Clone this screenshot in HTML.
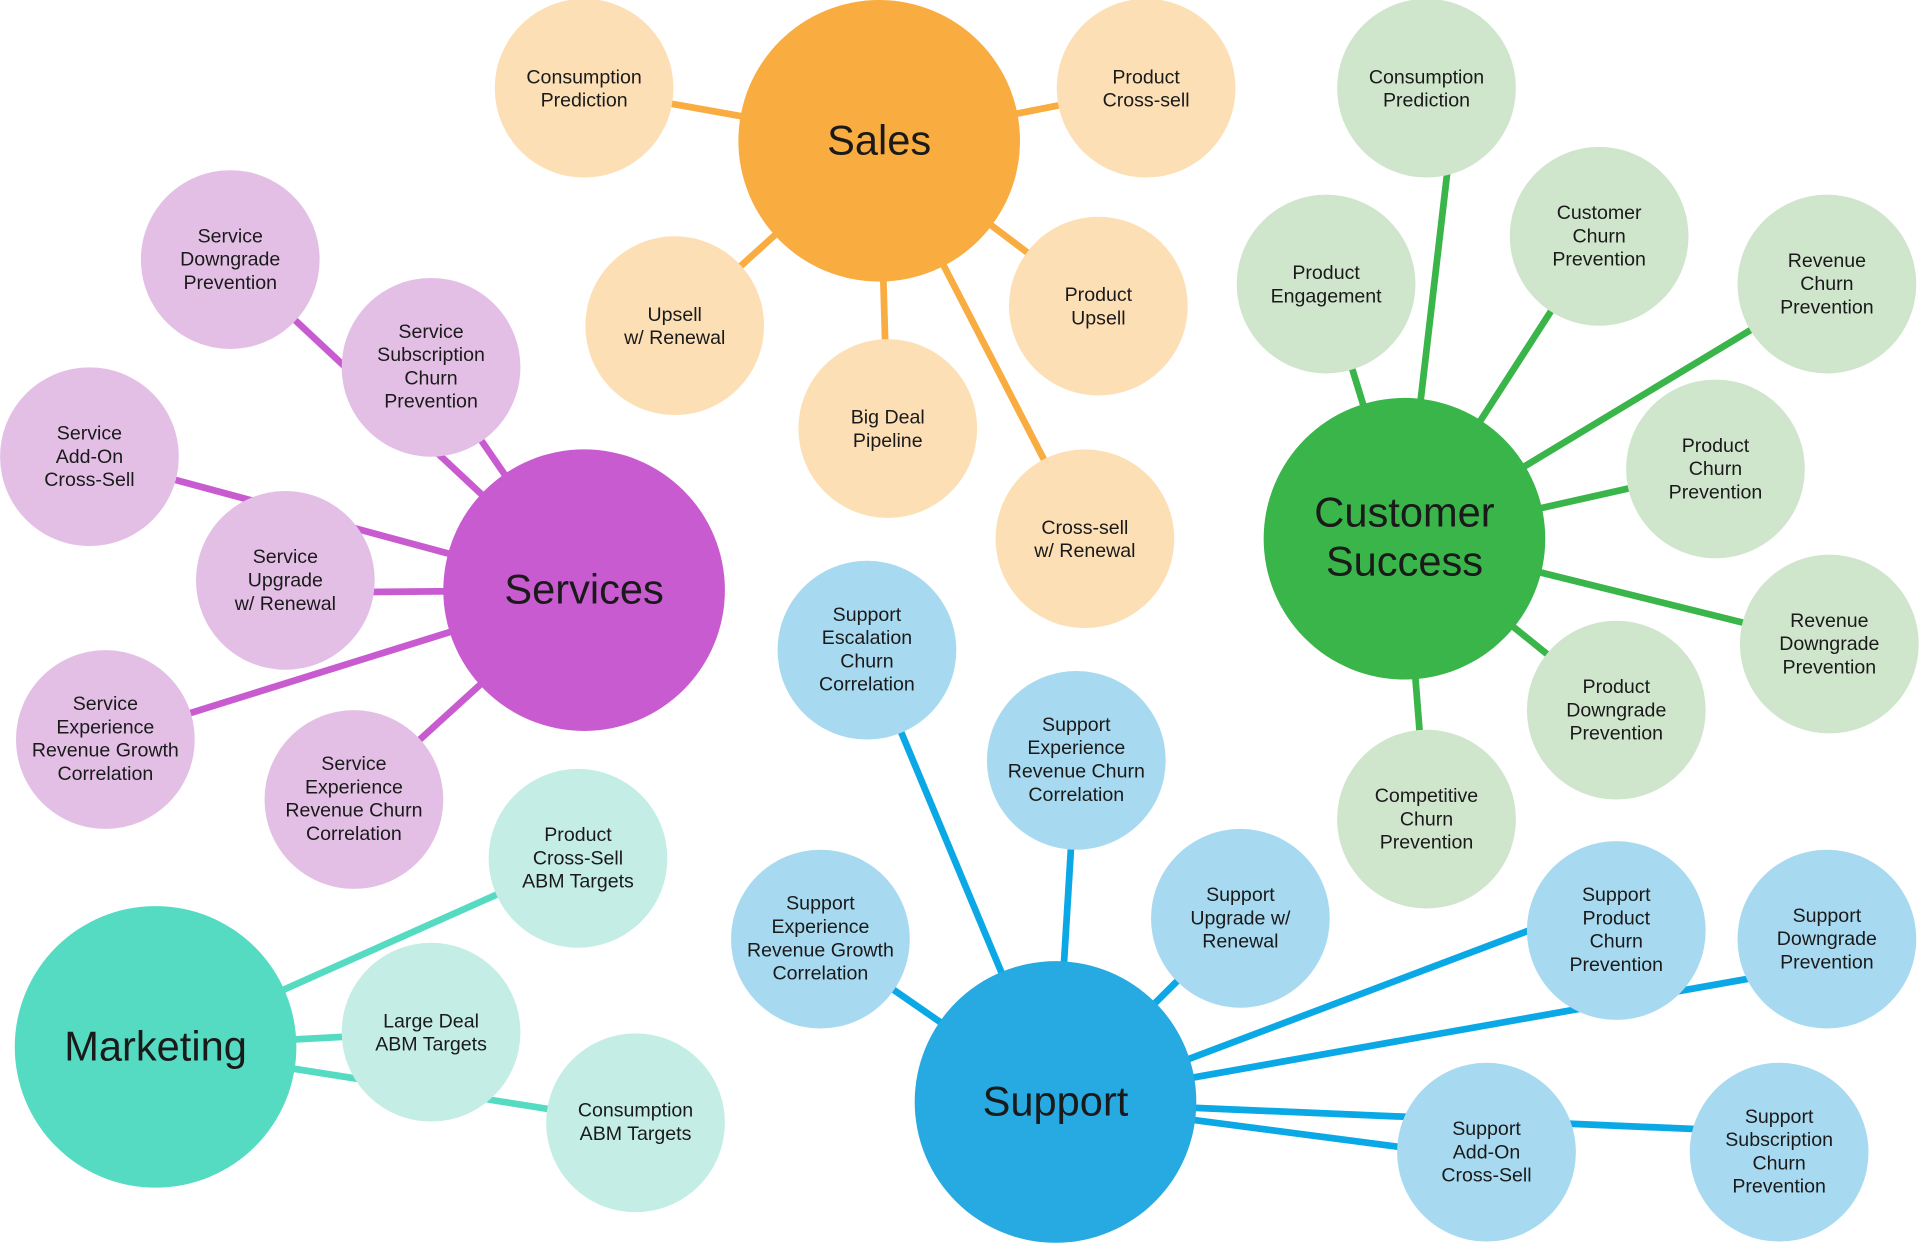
<!DOCTYPE html>
<html><head><meta charset="utf-8"><style>
html,body{margin:0;padding:0;background:#fff;}
svg{display:block;}
text{font-family:"Liberation Sans",sans-serif;fill:#1a1a1a;text-anchor:middle;}
.s{font-size:16px;}
.h{font-size:34px;}
</style></head><body>
<svg width="1920" height="1244" viewBox="0 0 1568 1016" xmlns="http://www.w3.org/2000/svg">
<g stroke-width="5.5" stroke-linecap="butt">
<g stroke="#F9AC40">
<line x1="718" y1="115" x2="477" y2="72"/>
<line x1="718" y1="115" x2="936" y2="72"/>
<line x1="718" y1="115" x2="551" y2="266"/>
<line x1="718" y1="115" x2="725" y2="350"/>
<line x1="718" y1="115" x2="897" y2="250"/>
<line x1="718" y1="115" x2="886" y2="440"/>
</g>
<g stroke="#39B54A">
<line x1="1147" y1="440" x2="1190" y2="72"/>
<line x1="1147" y1="440" x2="1083" y2="232"/>
<line x1="1147" y1="440" x2="1306" y2="193"/>
<line x1="1147" y1="440" x2="1492" y2="232"/>
<line x1="1147" y1="440" x2="1401" y2="383"/>
<line x1="1147" y1="440" x2="1494" y2="526"/>
<line x1="1147" y1="440" x2="1320" y2="580"/>
<line x1="1147" y1="440" x2="1165" y2="669"/>
</g>
<g stroke="#C95BD0">
<line x1="477" y1="482" x2="188" y2="212"/>
<line x1="477" y1="482" x2="352" y2="300"/>
<line x1="477" y1="482" x2="73" y2="373"/>
<line x1="477" y1="482" x2="233" y2="484"/>
<line x1="477" y1="482" x2="86" y2="604"/>
<line x1="477" y1="482" x2="289" y2="653"/>
</g>
<g stroke="#54DBC2">
<line x1="127" y1="855" x2="472" y2="701"/>
<line x1="127" y1="855" x2="352" y2="843"/>
<line x1="127" y1="855" x2="519" y2="917"/>
</g>
<g stroke="#0BA8E6">
<line x1="862" y1="900" x2="708" y2="531"/>
<line x1="862" y1="900" x2="879" y2="621"/>
<line x1="862" y1="900" x2="1013" y2="750"/>
<line x1="862" y1="900" x2="670" y2="767"/>
<line x1="862" y1="906" x2="1320" y2="733"/>
<line x1="862" y1="900" x2="1492" y2="788"/>
<line x1="862" y1="900" x2="1214" y2="946"/>
<line x1="862" y1="900" x2="1453" y2="925"/>
</g>
</g>
<g fill="#FDDFB5">
<circle cx="477" cy="72" r="73"/><circle cx="936" cy="72" r="73"/><circle cx="551" cy="266" r="73"/>
<circle cx="725" cy="350" r="73"/><circle cx="897" cy="250" r="73"/><circle cx="886" cy="440" r="73"/>
</g>
<circle cx="718" cy="115" r="115" fill="#F9AC40"/>
<g fill="#CFE6CC">
<circle cx="1165" cy="72" r="73"/><circle cx="1083" cy="232" r="73"/><circle cx="1306" cy="193" r="73"/>
<circle cx="1492" cy="232" r="73"/><circle cx="1401" cy="383" r="73"/><circle cx="1494" cy="526" r="73"/>
<circle cx="1320" cy="580" r="73"/><circle cx="1165" cy="669" r="73"/>
</g>
<circle cx="1147" cy="440" r="115" fill="#39B54A"/>
<g fill="#E3BFE6">
<circle cx="188" cy="212" r="73"/><circle cx="352" cy="300" r="73"/><circle cx="73" cy="373" r="73"/>
<circle cx="233" cy="474" r="73"/><circle cx="86" cy="604" r="73"/><circle cx="289" cy="653" r="73"/>
</g>
<circle cx="477" cy="482" r="115" fill="#C95BD0"/>
<g fill="#C4EDE5">
<circle cx="472" cy="701" r="73"/><circle cx="352" cy="843" r="73"/><circle cx="519" cy="917" r="73"/>
</g>
<circle cx="127" cy="855" r="115" fill="#54DBC2"/>
<g fill="#A7DAF0">
<circle cx="708" cy="531" r="73"/><circle cx="879" cy="621" r="73"/><circle cx="1013" cy="750" r="73"/>
<circle cx="670" cy="767" r="73"/><circle cx="1320" cy="760" r="73"/><circle cx="1492" cy="767" r="73"/>
<circle cx="1214" cy="941" r="73"/><circle cx="1453" cy="941" r="73"/>
</g>
<circle cx="862" cy="900" r="115" fill="#27A9E1"/>

<text class="h" x="718" y="126">Sales</text>
<text class="h" x="1147" y="430">Customer</text><text class="h" x="1147" y="470">Success</text>
<text class="h" x="477" y="493">Services</text>
<text class="h" x="127" y="866">Marketing</text>
<text class="h" x="862" y="911">Support</text>

<g class="s">
<text class="s" x="477" y="68">Consumption</text><text class="s" x="477" y="87">Prediction</text>
<text class="s" x="936" y="68">Product</text><text class="s" x="936" y="87">Cross-sell</text>
<text class="s" x="551" y="262">Upsell</text><text class="s" x="551" y="281">w/ Renewal</text>
<text class="s" x="725" y="346">Big Deal</text><text class="s" x="725" y="365">Pipeline</text>
<text class="s" x="897" y="246">Product</text><text class="s" x="897" y="265">Upsell</text>
<text class="s" x="886" y="436">Cross-sell</text><text class="s" x="886" y="455">w/ Renewal</text>

<text class="s" x="1165" y="68">Consumption</text><text class="s" x="1165" y="87">Prediction</text>
<text class="s" x="1083" y="228">Product</text><text class="s" x="1083" y="247">Engagement</text>
<text class="s" x="1306" y="179">Customer</text><text class="s" x="1306" y="198">Churn</text><text class="s" x="1306" y="217">Prevention</text>
<text class="s" x="1492" y="218">Revenue</text><text class="s" x="1492" y="237">Churn</text><text class="s" x="1492" y="256">Prevention</text>
<text class="s" x="1401" y="369">Product</text><text class="s" x="1401" y="388">Churn</text><text class="s" x="1401" y="407">Prevention</text>
<text class="s" x="1494" y="512">Revenue</text><text class="s" x="1494" y="531">Downgrade</text><text class="s" x="1494" y="550">Prevention</text>
<text class="s" x="1320" y="566">Product</text><text class="s" x="1320" y="585">Downgrade</text><text class="s" x="1320" y="604">Prevention</text>
<text class="s" x="1165" y="655">Competitive</text><text class="s" x="1165" y="674">Churn</text><text class="s" x="1165" y="693">Prevention</text>

<text class="s" x="188" y="198">Service</text><text class="s" x="188" y="217">Downgrade</text><text class="s" x="188" y="236">Prevention</text>
<text class="s" x="352" y="276">Service</text><text class="s" x="352" y="295">Subscription</text><text class="s" x="352" y="314">Churn</text><text class="s" x="352" y="333">Prevention</text>
<text class="s" x="73" y="359">Service</text><text class="s" x="73" y="378">Add-On</text><text class="s" x="73" y="397">Cross-Sell</text>
<text class="s" x="233" y="460">Service</text><text class="s" x="233" y="479">Upgrade</text><text class="s" x="233" y="498">w/ Renewal</text>
<text class="s" x="86" y="580">Service</text><text class="s" x="86" y="599">Experience</text><text class="s" x="86" y="618">Revenue Growth</text><text class="s" x="86" y="637">Correlation</text>
<text class="s" x="289" y="629">Service</text><text class="s" x="289" y="648">Experience</text><text class="s" x="289" y="667">Revenue Churn</text><text class="s" x="289" y="686">Correlation</text>

<text class="s" x="472" y="687">Product</text><text class="s" x="472" y="706">Cross-Sell</text><text class="s" x="472" y="725">ABM Targets</text>
<text class="s" x="352" y="839">Large Deal</text><text class="s" x="352" y="858">ABM Targets</text>
<text class="s" x="519" y="912">Consumption</text><text class="s" x="519" y="931">ABM Targets</text>

<text class="s" x="708" y="507">Support</text><text class="s" x="708" y="526">Escalation</text><text class="s" x="708" y="545">Churn</text><text class="s" x="708" y="564">Correlation</text>
<text class="s" x="879" y="597">Support</text><text class="s" x="879" y="616">Experience</text><text class="s" x="879" y="635">Revenue Churn</text><text class="s" x="879" y="654">Correlation</text>
<text class="s" x="1013" y="736">Support</text><text class="s" x="1013" y="755">Upgrade w/</text><text class="s" x="1013" y="774">Renewal</text>
<text class="s" x="670" y="743">Support</text><text class="s" x="670" y="762">Experience</text><text class="s" x="670" y="781">Revenue Growth</text><text class="s" x="670" y="800">Correlation</text>
<text class="s" x="1320" y="736">Support</text><text class="s" x="1320" y="755">Product</text><text class="s" x="1320" y="774">Churn</text><text class="s" x="1320" y="793">Prevention</text>
<text class="s" x="1492" y="753">Support</text><text class="s" x="1492" y="772">Downgrade</text><text class="s" x="1492" y="791">Prevention</text>
<text class="s" x="1214" y="927">Support</text><text class="s" x="1214" y="946">Add-On</text><text class="s" x="1214" y="965">Cross-Sell</text>
<text class="s" x="1453" y="917">Support</text><text class="s" x="1453" y="936">Subscription</text><text class="s" x="1453" y="955">Churn</text><text class="s" x="1453" y="974">Prevention</text>
</g>
</svg>
</body></html>
